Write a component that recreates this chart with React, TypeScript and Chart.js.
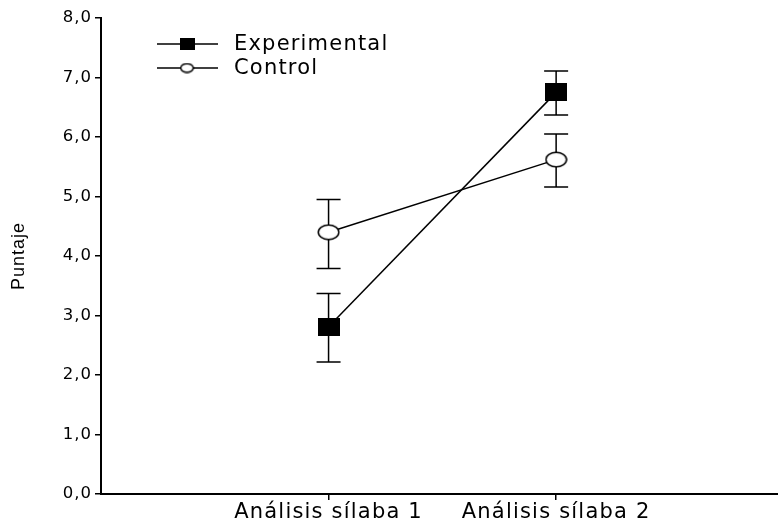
import React, { useEffect, useRef } from 'react';
import { Chart, registerables } from 'chart.js';
Chart.register(...registerables);

const categories = ['Análisis sílaba 1', 'Análisis sílaba 2'];
const categoryPositions = [1, 2];
const seriesNames = ['Experimental', 'Control'];
const experimentalMeans = [2.81, 6.75];
const experimentalUpper = [3.37, 7.11];
const experimentalLower = [2.22, 6.37];
const controlMeans = [4.4, 5.62];
const controlUpper = [4.95, 6.05];
const controlLower = [3.79, 5.16];
const yTicks = [0, 1, 2, 3, 4, 5, 6, 7, 8];
const yTitle = 'Puntaje';

const FONT = 'DejaVu Sans';
const X_SPACING = '1.2px';
const Y_SPACING = '1px';

function makeSquare(w: number, h: number) {
  const c = document.createElement('canvas');
  c.width = w;
  c.height = h;
  const g = c.getContext('2d')!;
  g.fillStyle = '#000';
  g.fillRect(0, 0, w, h);
  return c;
}

function makeEllipse(w: number, h: number, lw: number) {
  const c = document.createElement('canvas');
  c.width = w;
  c.height = h;
  const g = c.getContext('2d')!;
  g.beginPath();
  g.ellipse(w / 2, h / 2, w / 2 - lw / 2 - 0.5, h / 2 - lw / 2 - 0.5, 0, 0, Math.PI * 2);
  g.fillStyle = '#fff';
  g.fill();
  g.lineWidth = lw;
  g.strokeStyle = '#000';
  g.stroke();
  return c;
}

function wrapScale(chart: any, id: string, spacing: string) {
  const s = chart.scales[id];
  if (!s || s.__wrapped) return;
  ['drawLabels', 'drawTitle'].forEach((fn) => {
    const orig = s[fn];
    s[fn] = function (...args: any[]) {
      const ctx = this.ctx;
      const prev = ctx.letterSpacing;
      ctx.letterSpacing = spacing;
      orig.apply(this, args);
      ctx.letterSpacing = prev;
    };
  });
  s.__wrapped = true;
}

const spacingPlugin = {
  id: 'spacing',
  beforeLayout(chart: any) {
    wrapScale(chart, 'x', X_SPACING);
    wrapScale(chart, 'y', Y_SPACING);
  },
};

const errorBarPlugin = {
  id: 'errorBars',
  beforeDatasetsDraw(chart: any) {
    const { ctx, scales } = chart;
    const xs = scales.x;
    const ys = scales.y;
    ctx.save();
    ctx.strokeStyle = '#000';
    ctx.lineWidth = 1.5;
    chart.data.datasets.forEach((ds: any) => {
      ds.data.forEach((p: any, i: number) => {
        const x = xs.getPixelForValue(p.x);
        const yU = ys.getPixelForValue(ds.errUpper[i]);
        const yL = ys.getPixelForValue(ds.errLower[i]);
        const cap = 12;
        ctx.beginPath();
        ctx.moveTo(x, yU);
        ctx.lineTo(x, yL);
        ctx.moveTo(x - cap, yU);
        ctx.lineTo(x + cap, yU);
        ctx.moveTo(x - cap, yL);
        ctx.lineTo(x + cap, yL);
        ctx.stroke();
      });
    });
    ctx.restore();
  },
};

const legendPlugin = {
  id: 'customLegend',
  afterDraw(chart: any) {
    const { ctx } = chart;
    ctx.save();
    ctx.letterSpacing = X_SPACING;
    chart.data.datasets.forEach((ds: any, i: number) => {
      const y = 44 + i * 24;
      ctx.strokeStyle = '#000';
      ctx.lineWidth = 1.5;
      ctx.beginPath();
      ctx.moveTo(157, y);
      ctx.lineTo(218, y);
      ctx.stroke();
      const m = ds.legendMarker;
      ctx.drawImage(m, 187 - m.width / 2, y - m.height / 2);
      ctx.fillStyle = '#000';
      ctx.font = `21px "${FONT}"`;
      ctx.textBaseline = 'middle';
      ctx.textAlign = 'left';
      ctx.fillText(ds.label, 234, y + 1);
    });
    ctx.restore();
  },
};

export default function App() {
  const ref = useRef<HTMLCanvasElement>(null);
  useEffect(() => {
    document.body.style.margin = '0';
    const canvas = ref.current!;
    const chart = new Chart(canvas, {
      type: 'line',
      data: {
        datasets: [
          {
            label: seriesNames[0],
            data: categoryPositions.map((x, i) => ({ x, y: experimentalMeans[i] })),
            errUpper: experimentalUpper,
            errLower: experimentalLower,
            legendMarker: makeSquare(15, 12),
            borderColor: '#000',
            borderWidth: 1.5,
            pointStyle: makeSquare(22, 18),
            backgroundColor: '#000',
          } as any,
          {
            label: seriesNames[1],
            data: categoryPositions.map((x, i) => ({ x, y: controlMeans[i] })),
            errUpper: controlUpper,
            errLower: controlLower,
            legendMarker: makeEllipse(15, 11, 1.5),
            borderColor: '#000',
            borderWidth: 1.5,
            pointStyle: makeEllipse(23, 17, 1.5),
            backgroundColor: '#fff',
          } as any,
        ],
      },
      options: {
        responsive: false,
        animation: false,
        layout: { autoPadding: false, padding: { top: 18, left: 0, right: 0, bottom: 0 } },
        plugins: {
          legend: { display: false },
          tooltip: { enabled: false },
        },
        scales: {
          x: {
            type: 'linear',
            min: 0,
            max: 2.975,
            afterBuildTicks: (s: any) => {
              s.ticks = categoryPositions.map((v) => ({ value: v }));
            },
            afterFit: (s: any) => {
              s.height = 28;
            },
            ticks: {
              callback: (v: any) => categories[categoryPositions.indexOf(Number(v))],
              color: '#000',
              font: { family: FONT, size: 21 },
              padding: 0,
              maxRotation: 0,
              autoSkip: false,
            },
            grid: { display: true, drawOnChartArea: false, drawTicks: true, tickLength: 6, color: '#000', lineWidth: 1.5 },
            border: { display: true, color: '#000', width: 2 },
          },
          y: {
            type: 'linear',
            min: 0,
            max: 8,
            afterBuildTicks: (s: any) => {
              s.ticks = yTicks.map((v) => ({ value: v }));
            },
            afterFit: (s: any) => {
              s.width = 101;
            },
            ticks: {
              callback: (v: any) => Number(v).toFixed(1).replace('.', ','),
              color: '#000',
              font: { family: FONT, size: 16.5 },
              padding: 3,
            },
            title: {
              display: true,
              text: yTitle,
              color: '#000',
              font: { family: 'Liberation Sans', size: 18 },
              padding: { top: 8, bottom: 0 },
            },
            grid: { display: true, drawOnChartArea: false, drawTicks: true, tickLength: 6, color: '#000', lineWidth: 1.5 },
            border: { display: true, color: '#000', width: 2 },
          },
        },
      } as any,
      plugins: [spacingPlugin, errorBarPlugin, legendPlugin],
    });
    return () => chart.destroy();
  }, []);
  return (
    <div style={{ width: 778, height: 522 }}>
      <canvas ref={ref} width={778} height={522} style={{ display: 'block' }} />
    </div>
  );
}
